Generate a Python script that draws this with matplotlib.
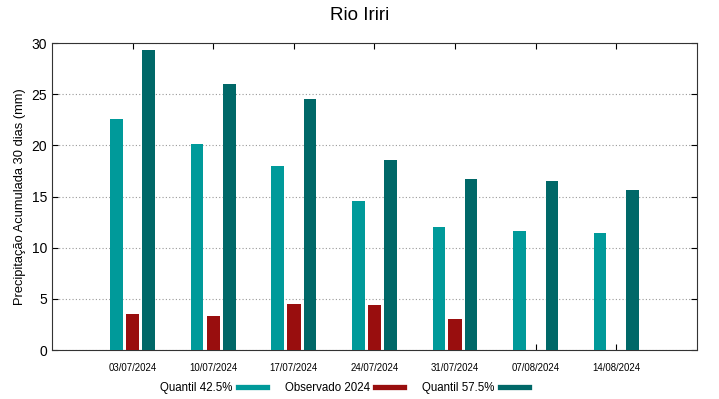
import numpy as np
import matplotlib
matplotlib.use('Agg')
import matplotlib.pyplot as plt
from matplotlib.lines import Line2D

plt.rcParams['font.family'] = ['Liberation Sans', 'DejaVu Sans']

# Data
datas = ['03/07/2024', '10/07/2024', '17/07/2024', '24/07/2024',
         '31/07/2024', '07/08/2024', '14/08/2024']
quantil_425 = [22.6, 20.1, 18.0, 14.6, 12.0, 11.6, 11.4]
observado_2024 = [3.5, 3.3, 4.45, 4.4, 3.0, np.nan, np.nan]
quantil_575 = [29.3, 26.0, 24.5, 18.6, 16.7, 16.5, 15.6]

cor_q1 = '#009a9a'
cor_obs = '#990e0e'
cor_q2 = '#006868'

fig = plt.figure(figsize=(7.19, 3.99), dpi=100)
ax = fig.add_axes([0.0723, 0.1228, 0.8971, 0.7692])

x = np.arange(len(datas))
w = 0.155
ax.bar(x - 0.2, quantil_425, w, color=cor_q1, zorder=3)
ax.bar(x, observado_2024, w + 0.01, color=cor_obs, zorder=3)
ax.bar(x + 0.2, quantil_575, w, color=cor_q2, zorder=3)

ax.set_xlim(-1, 7)
ax.set_ylim(0, 30)
ax.set_xticks(x)
ax.set_xticklabels(datas, fontsize=6.9)
ax.set_yticks(range(0, 31, 5))
ax.tick_params(axis='y', labelsize=10, direction='in', right=True, length=4)
ax.tick_params(axis='x', direction='in', top=True, length=4, pad=9)
ax.yaxis.grid(True, linestyle=(0, (1, 2)), color='#999999', linewidth=0.8, zorder=0)
ax.set_axisbelow(True)
for s in ax.spines.values():
    s.set_color('#333333')

ax.set_ylabel('Precipitação Acumulada 30 dias (mm)', fontsize=9.3)
fig.text(0.5, 0.962, 'Rio Iriri', ha='center', va='center', fontsize=13.5)

handles = [Line2D([], [], color=cor_q1, linewidth=3.8),
           Line2D([], [], color=cor_obs, linewidth=3.8),
           Line2D([], [], color=cor_q2, linewidth=3.8)]
labels = ['Quantil 42.5%', 'Observado 2024', 'Quantil 57.5%']
fig.legend(handles, labels, loc='center', bbox_to_anchor=(0.479, 0.028),
           ncol=3, frameon=False, markerfirst=False, fontsize=8.3,
           handlelength=2.5, columnspacing=1.5, handletextpad=0.5)

fig.savefig('out.png', dpi=100)
